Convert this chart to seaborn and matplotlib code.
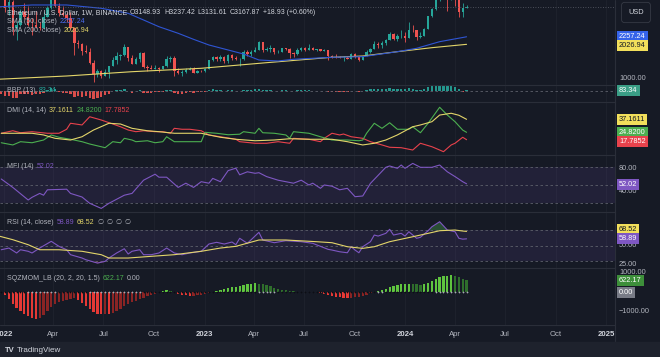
"""Weekly ETHUSD chart with BBP, DMI, MFI, RSI and squeeze momentum panes (TradingView dark look)."""

import matplotlib
matplotlib.use("Agg")
import matplotlib.pyplot as plt
from matplotlib.patches import Rectangle
from matplotlib.lines import Line2D
import numpy as np
import pandas as pd
import seaborn as sns

W, H = 660, 357
PLOT_R = 615                          # right edge of the chart panes (px)
START = pd.Timestamp("2021-12-20")    # Monday of week 0
XLIM = (0.67, 160.6)                  # in weeks since START

BG = "#161a25"; SEP = "#2a2e39"; GRID = "#1d212c"; TXT = "#b2b5be"; LIGHT = "#d1d4dc"
UP = "#26a69a"; DOWN = "#ef5350"
BLUE = "#2f55d4"; YEL = "#e3d56a"; GREEN = "#4caf50"; RED = "#e8424c"; PURPLE = "#7e57c2"
LEVEL = "#5d606b"

# ---- weekly candles (open of week 0, then close / high / low per week)
first_open = 3923
close = [4048, 3829, 3145, 3330, 2535, 2605, 3025, 2870, 2625, 2620,
         2555, 2520, 2860, 3140, 3520, 3210, 2990, 2925, 2830, 2520,
         2060, 2050, 1815, 1805, 1450, 1127, 1198, 1073, 1168, 1355,
         1551, 1678, 1700, 1935, 1617, 1424, 1573, 1760, 1337, 1294,
         1276, 1315, 1278, 1363, 1590, 1609, 1219, 1142, 1194, 1242,
         1264, 1167, 1218, 1200, 1269, 1550, 1628, 1573, 1630, 1515,
         1690, 1595, 1565, 1590, 1790, 1718, 1795, 1863, 2093, 1850,
         1870, 1900, 1800, 1806, 1910, 1890, 1750, 1720, 1865, 1925,
         1865, 1930, 1848, 1880, 1830, 1850, 1680, 1655, 1630, 1615,
         1625, 1590, 1730, 1635, 1555, 1665, 1780, 1895, 2045, 2013,
         2065, 2170, 2350, 2195, 2270, 2282, 2222, 2475, 2455, 2260,
         2290, 2505, 2880, 3110, 3490, 3920, 3520, 3450, 3645, 3455,
         3010, 3149, 3167.87]
high = [4100, 4130, 3880, 3415, 3370, 2725, 3100, 3280, 3200, 2820,
        3050, 2720, 3010, 3200, 3580, 3550, 3300, 3190, 3020, 3000,
        2560, 2160, 2060, 2015, 1900, 1540, 1280, 1230, 1280, 1380,
        1650, 1780, 1730, 2030, 1960, 1700, 1640, 1790, 1790, 1410,
        1400, 1390, 1340, 1370, 1660, 1680, 1660, 1290, 1230, 1300,
        1350, 1350, 1230, 1240, 1290, 1560, 1680, 1680, 1715, 1680,
        1740, 1740, 1670, 1600, 1840, 1840, 1850, 1945, 2140, 2110,
        1960, 2020, 1900, 1850, 1920, 1930, 1900, 1780, 1930, 1940,
        1960, 2030, 1935, 1890, 1890, 1870, 1860, 1700, 1745, 1660,
        1660, 1680, 1750, 1750, 1640, 1670, 1865, 1910, 2135, 2090,
        2135, 2190, 2400, 2365, 2350, 2450, 2415, 2715, 2615, 2465,
        2400, 2535, 2890, 3130, 3520, 3990, 4090, 3590, 3730, 3660,
        3730, 3280, 3237.42]
low = [3880, 3600, 3000, 2930, 2300, 2160, 2580, 2800, 2580, 2300,
       2520, 2450, 2510, 2850, 3120, 3170, 2880, 2880, 2720, 2500,
       1700, 1900, 1710, 1750, 1430, 880, 1040, 990, 1050, 1000,
       1355, 1420, 1550, 1680, 1530, 1420, 1420, 1500, 1320, 1220,
       1260, 1260, 1190, 1270, 1340, 1500, 1070, 1120, 1075, 1160,
       1230, 1150, 1150, 1180, 1190, 1260, 1510, 1520, 1520, 1460,
       1460, 1560, 1540, 1370, 1560, 1680, 1680, 1780, 1855, 1800,
       1810, 1800, 1740, 1760, 1780, 1840, 1620, 1630, 1715, 1820,
       1830, 1845, 1840, 1835, 1815, 1815, 1550, 1620, 1610, 1600,
       1530, 1580, 1570, 1615, 1520, 1535, 1660, 1775, 1880, 1930,
       1930, 2000, 2170, 2145, 2125, 2210, 2100, 2220, 2415, 2165,
       2215, 2275, 2480, 2860, 3070, 3350, 3420, 3050, 3370, 3205,
       2850, 2870, 3131.61]

# ---- moving averages (week, value)
sma50_wk = [0, 9, 18, 27, 34, 38, 42, 47, 51, 55, 60, 64, 68, 73, 77, 87, 95, 104, 109, 115, 122]
sma50 = [3170, 3228, 3228, 3127, 2974, 2770, 2565, 2364, 2180, 2007, 1854, 1732, 1549, 1519,
         1571, 1632, 1650, 1803, 1906, 2108, 2257.24]
sma200_wk = [0, 18, 35, 53, 70, 87, 95, 104, 113, 122]
sma200 = [960, 1061, 1192, 1296, 1467, 1632, 1671, 1803, 1925, 2026.94]

# ---- Bull Bear Power (13)
bbp = [-300, -500, -900, -800, -1200, -1100, -600, -500, -600, -700,
       -500, -600, -300, 100, 400, 250, -200, -300, -400, -600,
       -1000, -900, -1000, -900, -1200, -1400, -1100, -1000, -700, -500,
       -100, 150, 100, 300, -100, -300, -100, 100, -300, -400,
       -350, -200, -250, -150, 150, 150, -400, -500, -450, -300,
       -250, -300, -250, -250, -150, 150, 250, 150, 150, 0,
       150, 50, 0, -100, 150, 100, 150, 200, 300, 100,
       100, 100, 0, 0, 50, 50, -100, -100, 50, 80,
       50, 100, 30, 30, -30, -30, -200, -200, -200, -200,
       -200, -150, 0, -80, -150, -50, 100, 200, 350, 250,
       250, 300, 450, 300, 300, 350, 250, 450, 350, 150,
       150, 300, 650, 800, 1100, 1500, 1400, 900, 850, 600,
       250, -150, 83.34]

# ---- DMI (14, 14)
adx_wk = [1, 6, 9, 12, 15, 19, 22, 25, 28, 29, 32, 35, 39, 42, 46, 49, 53, 55, 58, 62,
          67, 72, 76, 81, 84, 87, 91, 95, 98, 101, 104, 108, 110, 113, 115, 118, 120, 122]
adx = [23.9, 23.9, 23.9, 22.3, 19.1, 17.5, 20.6, 27.0, 31.8, 33.4, 32.7, 28.6, 26.3, 25.4,
       23.9, 23.9, 23.9, 22.3, 20.1, 18.2, 16.8, 17.5, 18.7, 18.2, 18.2, 18.2, 15.9, 12.8,
       14.4, 17.5, 22.3, 30.1, 31.8, 34.9, 41.2, 42.9, 41.0, 37.1611]
pdi_wk = [1, 4, 6, 9, 12, 14, 16, 19, 22, 24, 27, 28, 30, 32, 33, 35, 36, 39, 41, 43, 44,
          46, 49, 53, 54, 57, 60, 63, 64, 67, 68, 69, 72, 75, 76, 77, 81, 84, 87, 91, 94,
          95, 96, 98, 100, 102, 104, 107, 108, 110, 112, 115, 117, 119, 121, 122]
pdi = [14.9, 12.8, 15.9, 14.9, 17.5, 22.3, 20.1, 18.2, 15.9, 13.7, 11.1, 10.2, 15.9, 14.9,
       19.1, 17.5, 15.9, 16.8, 14.9, 15.9, 20.6, 15.9, 15.9, 15.9, 24.8, 23.9, 22.5, 23.0,
       25.4, 23.9, 28.6, 24.4, 23.9, 22.3, 19.1, 25.4, 23.9, 20.6, 17.5, 17.5, 16.8, 17.5,
       23.9, 33.4, 28.6, 33.9, 27.7, 27.7, 30.1, 24.4, 33.4, 48.6, 41.2, 34.9, 26.9, 24.82]
mdi_wk = [1, 4, 6, 9, 13, 16, 18, 19, 22, 24, 27, 30, 32, 34, 36, 38, 41, 43, 45, 46, 48,
          50, 53, 55, 58, 62, 63, 67, 70, 73, 76, 77, 81, 84, 85, 87, 89, 90, 92, 95, 97,
          100, 102, 105, 108, 110, 113, 115, 116, 118, 119, 121, 122]
mdi = [23.9, 26.3, 24.4, 25.4, 23.9, 23.9, 27.7, 33.4, 31.8, 39.6, 36.5, 32.7, 30.1, 27.0,
       25.4, 26.3, 25.4, 25.4, 23.9, 28.6, 27.7, 27.7, 26.3, 22.3, 20.6, 18.2, 15.9, 14.4,
       14.4, 15.9, 14.4, 19.1, 18.2, 15.9, 19.1, 23.9, 22.3, 23.2, 20.6, 19.1, 15.9, 12.8,
       10.6, 10.2, 8.0, 14.4, 11.1, 8.0, 6.4, 12.8, 14.4, 20.1, 17.7852]

# ---- MFI (14)
mfi_wk = [1, 4, 8, 9, 11, 12, 13, 18, 19, 22, 24, 27, 29, 33, 35, 38, 41, 42, 44, 47, 49,
          51, 53, 55, 56, 58, 60, 62, 63, 65, 67, 68, 70, 73, 75, 77, 79, 81, 82, 84, 85,
          87, 89, 91, 93, 95, 97, 101, 102, 104, 105, 106, 108, 110, 113, 115, 117, 119, 121, 122]
mfi = [60.0, 46.0, 25.0, 29.5, 36.0, 33.0, 42.0, 43.0, 36.0, 30.0, 19.5, 11.0, 19.5, 33.0,
       36.0, 58.0, 68.0, 63.0, 63.0, 46.0, 53.0, 46.0, 55.5, 53.0, 61.0, 55.5, 74.0, 78.0,
       67.0, 72.0, 69.5, 70.5, 64.0, 58.0, 55.5, 53.0, 58.0, 50.0, 53.0, 44.5, 50.0, 48.0,
       42.0, 44.5, 30.5, 31.7, 52.7, 79.5, 81.7, 77.8, 83.3, 77.8, 86.0, 79.5, 79.5, 83.3,
       72.0, 64.0, 55.5, 52.02]

# ---- RSI (14, close) and its moving average
rsi_wk = [1, 3, 5, 6, 8, 9, 11, 14, 16, 18, 19, 22, 23, 26, 28, 29, 31, 33, 34, 35, 37,
          38, 40, 42, 44, 46, 48, 50, 53, 55, 57, 59, 61, 62, 63, 65, 68, 69, 72, 75, 79,
          82, 86, 87, 89, 91, 92, 93, 94, 95, 97, 98, 99, 101, 102, 103, 105, 106, 107,
          109, 110, 112, 113, 115, 117, 119, 120, 121, 122]
rsi = [44.8, 47.0, 40.6, 44.8, 42.8, 40.6, 47.0, 55.7, 49.2, 44.8, 38.4, 34.1, 31.9, 27.6,
       29.8, 34.1, 40.6, 46.1, 39.3, 42.8, 44.8, 38.4, 38.4, 40.6, 47.0, 40.6, 38.4, 40.6,
       42.8, 52.2, 54.4, 52.2, 54.8, 51.3, 59.6, 53.1, 67.3, 57.4, 53.9, 56.5, 55.2, 53.1,
       45.3, 44.4, 42.2, 40.9, 48.7, 44.4, 40.9, 48.7, 55.2, 63.8, 62.5, 66.0, 71.2, 63.8,
       66.0, 62.5, 68.1, 59.6, 60.9, 69.4, 74.6, 81.0, 70.3, 68.1, 59.6, 58.5, 58.89]
rsi_ma_wk = [0, 4, 8, 11, 16, 22, 27, 29, 34, 40, 46, 53, 58, 62, 68, 75, 83, 87, 91, 95,
             98, 102, 108, 112, 115, 119, 121, 122]
rsi_ma = [63.0, 57.8, 51.3, 44.8, 44.8, 42.8, 38.4, 34.1, 34.1, 36.3, 38.4, 42.8, 47.0,
          49.2, 57.4, 57.4, 55.2, 53.9, 48.7, 46.6, 48.7, 55.2, 61.6, 66.0, 69.4, 70.3,
          69.0, 68.52]

# ---- Squeeze momentum (20, 2, 20, 1.5)
sqz = [150, 50, -150, -350, -600, -800, -950, -1100, -1200, -1300,
       -1370, -1300, -1150, -950, -750, -600, -500, -450, -400, -350,
       -300, -400, -550, -700, -850, -1000, -1080, -1120, -1100, -1110,
       -1050, -950, -850, -700, -600, -500, -420, -330, -260, -200,
       -130, -60, 30, 80, 120, 90, 30, -60, -110, -150,
       -170, -160, -150, -120, -80, -30, 30, 80, 140, 180,
       220, 260, 300, 350, 390, 430, 450, 470, 460, 430,
       380, 320, 250, 190, 150, 110, 80, 60, 40, 30,
       20, 15, 10, 5, -10, -60, -130, -180, -220, -250,
       -270, -280, -260, -250, -230, -180, -110, -40, 40, 90,
       140, 200, 260, 320, 370, 420, 440, 460, 450, 420,
       400, 440, 500, 580, 680, 780, 850, 870, 880, 850,
       780, 700, 622.17]
sqz_off = [(8, 15), (24, 37), (68, 72), (99, 100), (114, 122)]   # weeks with gray crosses

tick_dates = ["2022-01-01", "2022-04-01", "2022-07-01", "2022-10-01", "2023-01-01", "2023-04-01",
              "2023-07-01", "2023-10-01", "2024-01-01", "2024-04-01", "2024-07-01", "2024-10-01",
              "2025-01-01"]
tick_labels = ["2022", "Apr", "Jul", "Oct", "2023", "Apr", "Jul", "Oct", "2024", "Apr", "Jul", "Oct", "2025"]

sns.set_theme(style="dark", rc={"axes.facecolor": BG, "figure.facecolor": BG})
plt.rcParams["font.family"] = ["Liberation Sans", "DejaVu Sans"]

tick_wk = [(pd.Timestamp(d) - START).days / 7 for d in tick_dates]
wk = np.arange(len(close))

fig = plt.figure(figsize=(W / 100, H / 100), dpi=100)
fig.patch.set_facecolor(BG)
renderer = fig.canvas.get_renderer()


def pane(top, bottom, ylim, sep=True):
    ax = fig.add_axes([0, 1 - bottom / H, PLOT_R / W, (bottom - top) / H])
    ax.set_facecolor(BG)
    ax.set_xlim(*XLIM); ax.set_ylim(*ylim)
    ax.set_xticks([]); ax.set_yticks([])
    for s in ax.spines.values():
        s.set_visible(False)
    if sep:
        ax.spines["top"].set_visible(True); ax.spines["top"].set_color(SEP); ax.spines["top"].set_linewidth(0.8)
    for t in tick_wk:
        ax.axvline(t, color=GRID, lw=0.8, zorder=0)
    return ax


def line(ax, xs, ys, color, lw=0.8):
    sns.lineplot(x=xs, y=ys, ax=ax, color=color, linewidth=lw, legend=False, estimator=None)
    ax.set_xlabel(""); ax.set_ylabel("")


def dashed(ax, y):
    ax.axhline(y, color=LEVEL, lw=0.6, ls=(0, (3, 3)), zorder=1)


def text_row(px, py, parts, size=5.0, gap=2.8):
    for s, c in parts:
        t = fig.text(px / W, 1 - py / H, s, color=c, fontsize=size, va="center", ha="left")
        px += t.get_window_extent(renderer).width + gap


def tag(py, s, fc=None, tc="white", size=5.3):
    kw = dict(color=tc, fontsize=size, va="center", ha="left", zorder=5)
    if fc is not None:
        kw["bbox"] = dict(boxstyle="square,pad=0.28", fc=fc, ec="none")
    fig.text(619 / W, 1 - py / H, s, **kw)


# ---- price pane
ax = pane(0, 85, (786, 3380), sep=False)
c = np.array(close, dtype=float)
o = np.r_[first_open, c[:-1]]
col = np.where(c >= o, UP, DOWN)
ax.vlines(wk, low, high, colors=col, lw=0.6)
ax.bar(wk, np.maximum(np.abs(c - o), 8), bottom=np.minimum(o, c), width=0.62, color=col, linewidth=0)
line(ax, sma200_wk, sma200, YEL, 0.8)
line(ax, sma50_wk, sma50, BLUE, 0.8)
ax.axhline(close[-1], color=LEVEL, lw=0.6, ls=(0, (1, 2)))

# ---- BBP pane
ax = pane(85, 102, (-1808, 912))
ax.bar(wk, bbp, width=0.62, color=np.where(np.array(bbp) >= 0, UP, DOWN), linewidth=0, alpha=0.9)
dashed(ax, 0)

# ---- DMI pane
ax = pane(102, 155, (3.26, 53.6))
line(ax, mdi_wk, mdi, RED)
line(ax, pdi_wk, pdi, GREEN)
line(ax, adx_wk, adx, YEL)

# ---- MFI pane
ax = pane(155, 212, (5, 100))
ax.axhspan(20, 80, color=PURPLE, alpha=0.12, lw=0)
for lv in (80, 50, 20):
    dashed(ax, lv)
line(ax, mfi_wk, mfi, PURPLE)

# ---- RSI pane
ax = pane(212, 268, (21.2, 93.6))
ax.axhspan(30, 70, color=PURPLE, alpha=0.12, lw=0)
for lv in (70, 50, 30):
    dashed(ax, lv)
r = np.array(rsi)
ax.fill_between(rsi_wk, r, 70, where=r > 70, interpolate=True, color=GREEN, alpha=0.35, lw=0)
ax.fill_between(rsi_wk, r, 30, where=r < 30, interpolate=True, color=RED, alpha=0.3, lw=0)
line(ax, rsi_wk, rsi, PURPLE)
line(ax, rsi_ma_wk, rsi_ma, YEL)

# ---- squeeze momentum pane
ax = pane(268, 325, (-1667, 1256))
s = np.array(sqz, dtype=float)
prev = np.r_[s[0], s[:-1]]
sq_col = np.where(s >= 0, np.where(s >= prev, "#5fc43f", "#2f6e2c"),
                  np.where(s <= prev, "#e53935", "#8a2424"))
ax.bar(wk, s, width=0.6, color=sq_col, linewidth=0)
off = np.zeros(len(wk), bool)
for a, b in sqz_off:
    off[a:b + 1] = True
ax.scatter(wk[~off], np.zeros((~off).sum()), marker="+", s=4, lw=0.5, color="#0c0e14", zorder=3)
ax.scatter(wk[off], np.zeros(off.sum()), marker="+", s=4, lw=0.5, color="#a8abb3", zorder=3)

# ---- date axis
ax = fig.add_axes([0, 1 - 342 / H, PLOT_R / W, 17 / H])
ax.set_facecolor(BG); ax.set_xlim(*XLIM); ax.set_ylim(0, 1); ax.axis("off")
ax.add_line(Line2D([0, 1], [1, 1], transform=ax.transAxes, color=SEP, lw=0.8))
for t, lab in zip(tick_wk, tick_labels):
    year = lab.isdigit()
    ax.text(t, 0.45, lab, ha="center", va="center", fontsize=5.6, clip_on=True,
            color=LIGHT if year else TXT, fontweight="bold" if year else "normal")

# ---- frame pieces: right scale separator and footer
fig.add_artist(Line2D([PLOT_R / W] * 2, [1 - 342 / H, 1], color=SEP, lw=0.8))
fig.add_artist(Rectangle((0, 0), 1, 15 / H, transform=fig.transFigure, color="#1e222d", zorder=2))
fig.text(5 / W, 1 - 350.5 / H, "TV", color=LIGHT, fontsize=5.5, fontweight="bold", va="center", zorder=3)
fig.text(17 / W, 1 - 350.5 / H, "TradingView", color=LIGHT, fontsize=5.8, va="center", zorder=3)

# ---- legends at the top-left of each pane
text_row(7, 12.7, [("Ethereum / U.S. Dollar, 1W, BINANCE", LIGHT),
                   ("O3148.93", LIGHT), ("H3237.42", LIGHT), ("L3131.61", LIGHT),
                   ("C3167.87", LIGHT), ("+18.93 (+0.60%)", LIGHT)])
text_row(7, 21.5, [("SMA (50, close)", TXT), ("2257.24", "#4a6cf0")])
text_row(7, 31, [("SMA (200, close)", TXT), ("2026.94", YEL)])
text_row(7, 90, [("BBP (13)", TXT), ("83.34", UP)])
text_row(7, 110.5, [("DMI (14, 14)", TXT), ("37.1611", YEL), ("24.8200", GREEN), ("17.7852", RED)])
text_row(7, 167, [("MFI (14)", TXT), ("52.02", PURPLE)])
text_row(7, 223, [("RSI (14, close)", TXT), ("58.89", PURPLE), ("68.52", YEL),
                  ("\u2205", TXT), ("\u2205", TXT), ("\u2205", TXT), ("\u2205", TXT)])
text_row(7, 279, [("SQZMOM_LB (20, 2, 20, 1.5)", TXT), ("622.17", GREEN), ("0.00", TXT)])

# ---- right price scale labels
fig.text(636 / W, 1 - 12.5 / H, "USD", color=LIGHT, fontsize=5.3, ha="center", va="center",
         bbox=dict(boxstyle="round,pad=0.9,rounding_size=0.4", fc=BG, ec="#363a45", lw=0.6))
tag(36.7, "2257.24", "#3563e9")
tag(45.3, "2026.94", "#f2df5b", "#131722")
tag(78.3, "1000.00", None, TXT)
tag(90.5, "83.34", "#3a9e86")
tag(119.5, "37.1611", "#f2df5b", "#131722")
tag(132.3, "24.8200", GREEN)
tag(141.2, "17.7852", RED)
tag(168, "80.00", None, TXT)
tag(191.7, "40.00", None, TXT)
tag(184.6, "52.02", PURPLE)
tag(245.7, "50.00", None, TXT)
tag(265, "25.00", None, TXT)
tag(229.3, "68.52", "#f2df5b", "#131722")
tag(238.6, "58.89", PURPLE)
tag(272.7, "1000.00", None, TXT)
tag(280.7, "622.17", "#3d8f3a")
tag(292.3, "0.00", "#787b86")
tag(311.7, "\u22121000.00", None, TXT)

fig.savefig("out.png", dpi=100, facecolor=BG)
